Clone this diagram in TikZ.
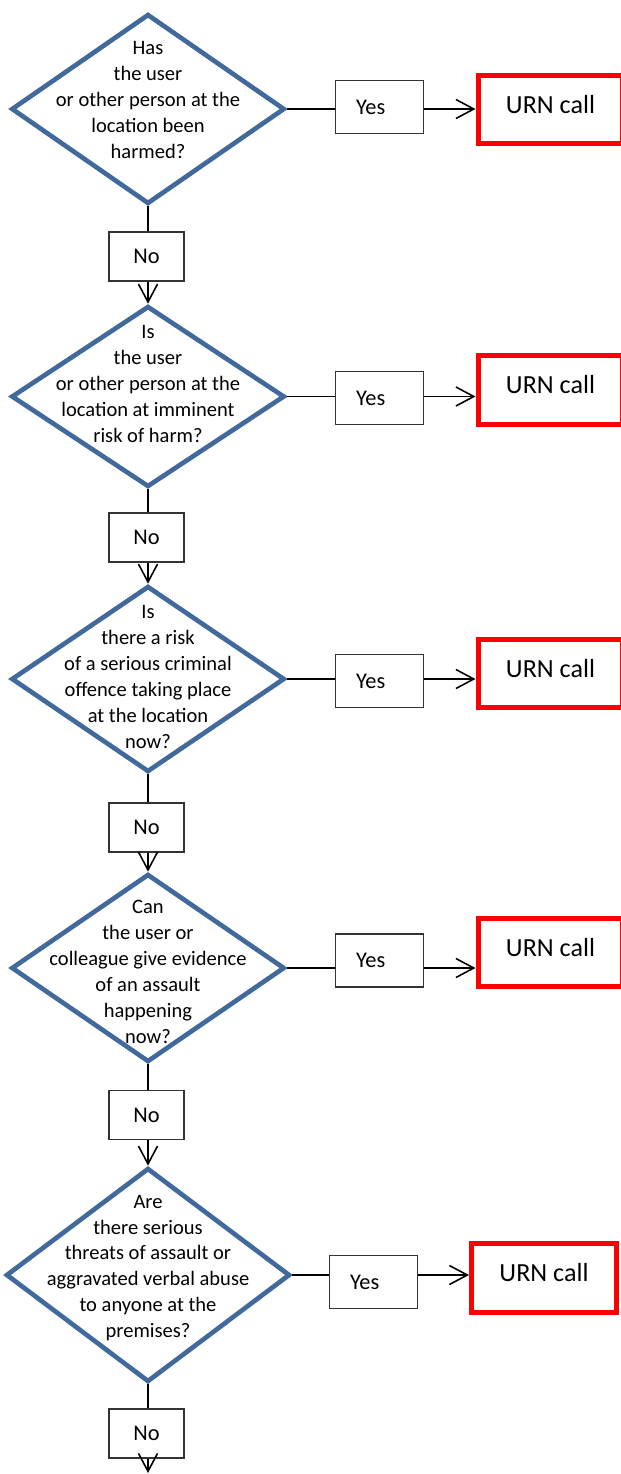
\documentclass[tikz,border=0pt]{standalone}
\usepackage{fontspec}
\setmainfont{Carlito}
\usetikzlibrary{shapes.geometric,arrows.meta}
\definecolor{qblue}{HTML}{41699B}
\definecolor{urnred}{HTML}{FF0000}
\begin{document}
\begin{tikzpicture}[x=0.536pt, y=-0.536pt, line width=0.85pt,
    >={Straight Barb[length=9.6pt,width=10.2pt]},
    decision/.style={diamond, draw=qblue, line width=2.5pt, minimum width=146.5pt, inner sep=0pt},
    question/.style={align=center, font=\fontsize{11}{13.9}\selectfont},
    yesbox/.style={draw=black!80, minimum width=47.2pt, minimum height=28.4pt, text width=25pt,
        inner xsep=11pt, inner ysep=0pt, align=left, font=\fontsize{12}{14}\selectfont},
    nobox/.style={draw=black!80, minimum width=40.2pt, minimum height=26.3pt, inner sep=0pt,
        font=\fontsize{12}{14}\selectfont},
    urnbox/.style={draw=urnred, line width=2.7pt, minimum width=77.7pt, minimum height=36.5pt,
        inner sep=0pt, text height=9pt, text depth=5pt, font=\fontsize{14}{16}\selectfont}]
    \useasboundingbox (0,0) rectangle (621,1474);
    \clip (0,0) rectangle (621,1474);
    % first question
    \node[decision, minimum height=101.8pt] (d1) at (148,109) {};
    \node[question] (t1) at (148,100) {Has\\the user\\or other person at the\\location been\\harmed?};
    \node[yesbox] (y1) at (379.5,107) {Yes};
    \node[urnbox] (u1) at (550.5,109.5) {URN call};
    \node[nobox] (n1) at (146.5,256.5) {No};
    % second question
    \node[decision, minimum height=97pt] (d2) at (148,396.5) {};
    \node[question] (t2) at (148,384) {Is\\the user\\or other person at the\\location at imminent\\risk of harm?};
    \node[yesbox] (y2) at (379.5,398) {Yes};
    \node[urnbox] (u2) at (550.5,390) {URN call};
    \node[nobox] (n2) at (146.5,537.5) {No};
    % third question
    \node[decision, minimum height=99.7pt] (d3) at (148,679) {};
    \node[question] (t3) at (148,677) {Is\\there a risk\\of a serious criminal\\offence taking place\\at the location\\now?};
    \node[yesbox] (y3) at (379.5,681) {Yes};
    \node[urnbox] (u3) at (550.5,673.5) {URN call};
    \node[nobox] (n3) at (146.5,827.5) {No};
    % fourth question
    \node[decision, minimum height=100.8pt] (d4) at (148,968) {};
    \node[question] (t4) at (148,972) {Can\\the user or\\colleague give evidence\\of an assault\\happening\\now?};
    \node[yesbox] (y4) at (379.5,960.5) {Yes};
    \node[urnbox] (u4) at (550.5,952.5) {URN call};
    \node[nobox] (n4) at (146.5,1115) {No};
    % fifth question
    \node[decision, minimum width=152.2pt, minimum height=114.7pt] (d5) at (148,1275) {};
    \node[question] (t5) at (148,1268) {Are\\there serious\\threats of assault or\\aggravated verbal abuse\\to anyone at the\\premises?};
    \node[yesbox] (y5) at (373.5,1282) {Yes};
    \node[urnbox] (u5) at (544,1278) {URN call};
    \node[nobox] (n5) at (146.5,1433.5) {No};
    \coordinate (out) at (148,1473);
    % connectors
    \draw (d1.east) -- (y1.west |- d1.east); \draw[->] (y1.east |- d1.east) -- (u1.west |- d1.east);
    \draw (d2.east) -- (y2.west |- d2.east); \draw[->] (y2.east |- d2.east) -- (u2.west |- d2.east);
    \draw (d3.east) -- (y3.west |- d3.east); \draw[->] (y3.east |- d3.east) -- (u3.west |- d3.east);
    \draw (d4.east) -- (y4.west |- d4.east); \draw[->] (y4.east |- d4.east) -- (u4.west |- d4.east);
    \draw (d5.east) -- (y5.west |- d5.east); \draw[->] (y5.east |- d5.east) -- (u5.west |- d5.east);
    \draw (d1.south) -- (d1.south |- n1.north); \draw[->] (d1.south |- n1.south) -- (d2.north);
    \draw (d2.south) -- (d2.south |- n2.north); \draw[->] (d2.south |- n2.south) -- (d3.north);
    \draw (d3.south) -- (d3.south |- n3.north); \draw[->] (d3.south |- n3.south) -- (d4.north);
    \draw (d4.south) -- (d4.south |- n4.north); \draw[->] (d4.south |- n4.south) -- (d5.north);
    \draw (d5.south) -- (d5.south |- n5.north); \draw[->] (d5.south |- n5.south) -- (out);
\end{tikzpicture}
\end{document}
